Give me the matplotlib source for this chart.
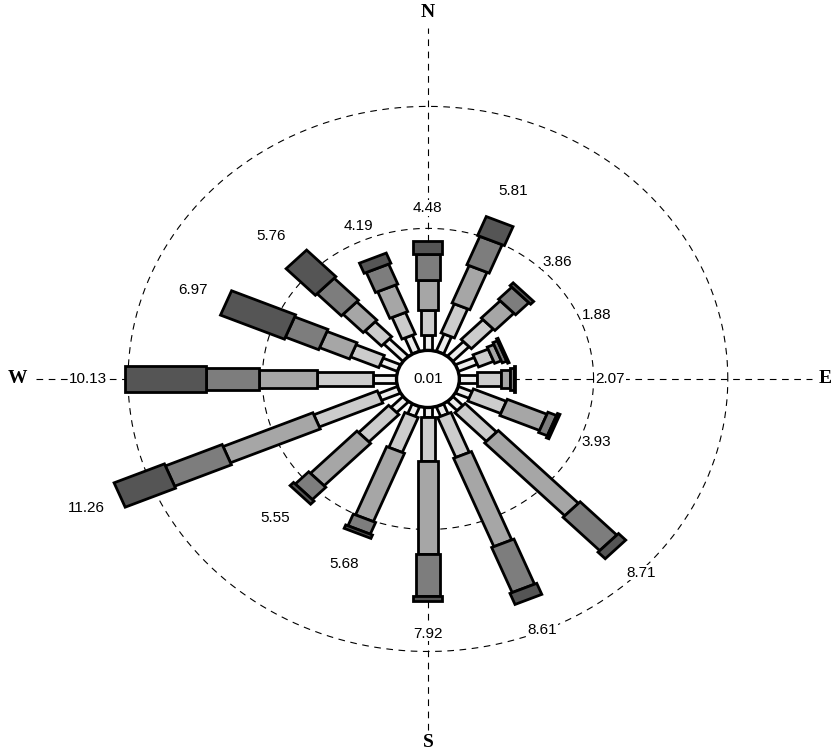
import matplotlib
matplotlib.use("Agg")
import matplotlib.pyplot as plt
from matplotlib.patches import Polygon, Circle
import numpy as np

# wind directions, 16 sectors clockwise from north
directions = ['N', 'NNE', 'NE', 'ENE', 'E', 'ESE', 'SE', 'SSE',
              'S', 'SSW', 'SW', 'WSW', 'W', 'WNW', 'NW', 'NNW']

# frequency (%) per speed class, one value per direction
class1 = [0.62, 0.76, 0.85, 0.76, 0.64, 0.55, 0.52, 0.43, 0.41, 0.43, 0.63, 0.76, 0.88, 0.70, 1.01, 0.71]
class2 = [1.02, 1.29, 1.15, 0.61, 0.93, 1.33, 1.66, 1.77, 1.78, 1.55, 1.58, 2.56, 2.08, 1.14, 0.87, 0.96]
class3 = [1.24, 1.66, 1.00, 0.27, 0.30, 1.60, 4.22, 3.92, 3.82, 3.03, 2.45, 3.62, 2.16, 1.21, 1.06, 1.18]
class4 = [1.05, 1.26, 0.70, 0.18, 0.16, 0.35, 1.93, 2.00, 1.71, 0.52, 0.71, 2.29, 1.98, 1.34, 1.28, 0.89]
class5 = [0.55, 0.84, 0.16, 0.06, 0.04, 0.10, 0.38, 0.49, 0.20, 0.15, 0.18, 2.03, 3.03, 2.58, 1.54, 0.45]
calm = 0.01

classes = [class1, class2, class3, class4, class5]
colors = ['#eeeeee', '#cccccc', '#a6a6a6', '#7d7d7d', '#555555']
widths = [0.30, 0.54, 0.72, 0.90, 1.08]

r0 = 1.17  # radius of the calm circle
rings = [5, 10]

fig = plt.figure(figsize=(8.36, 7.53), dpi=100)
ax = fig.add_axes([0, 0, 1, 1])
ax.set_xlim(-15.94, 15.20)
ax.set_ylim(-15.33, 15.53)
ax.axis('off')

# compass lines
ax.plot([0, 0], [-14.4, 14.4], color='black', lw=0.8, ls=(0, (6, 5)), zorder=1)
ax.plot([-14.6, 14.3], [0, 0], color='black', lw=0.8, ls=(0, (6, 5)), zorder=1)
bold = dict(family='Liberation Serif', fontsize=14, fontweight='bold', ha='center', va='center')
ax.text(0, 15.0, 'N', **bold)
ax.text(0, -14.9, 'S', **bold)
ax.text(-15.3, 0, 'W', **bold)
ax.text(14.8, 0, 'E', **bold)

# dashed rings
t = np.linspace(0, 2 * np.pi, 400)
for r in rings:
    ax.plot((r0 + r) * np.cos(t), (r0 + r) * np.sin(t), color='black', lw=0.8,
            ls=(0, (6, 5)), zorder=1)

totals = np.sum(classes, axis=0)
for i, d in enumerate(directions):
    th = np.radians(i * 22.5)
    u = np.array([np.sin(th), np.cos(th)])
    p = np.array([np.cos(th), -np.sin(th)])
    start = r0
    for k in range(5):
        end = start + classes[k][i]
        w = widths[k] / 2
        pts = [start * u + w * p, end * u + w * p, end * u - w * p, start * u - w * p]
        ax.add_patch(Polygon(pts, closed=True, facecolor=colors[k], edgecolor='black',
                             lw=2.0, joinstyle='miter', zorder=2 + k))
        start = end
    rl = max(totals[i] + r0, 5.45) + 1.35
    ax.text(rl * u[0], rl * u[1], '%.2f' % totals[i], family='Liberation Sans', fontsize=11,
            ha='center', va='center', zorder=10,
            bbox=dict(facecolor='white', edgecolor='none', pad=0.5))

ax.add_patch(Circle((0, 0), r0, facecolor='white', edgecolor='black', lw=2.4, zorder=8))
ax.text(0, 0, '%.2f' % calm, family='Liberation Sans', fontsize=11, ha='center', va='center', zorder=9)

fig.savefig('out.png', dpi=100)
